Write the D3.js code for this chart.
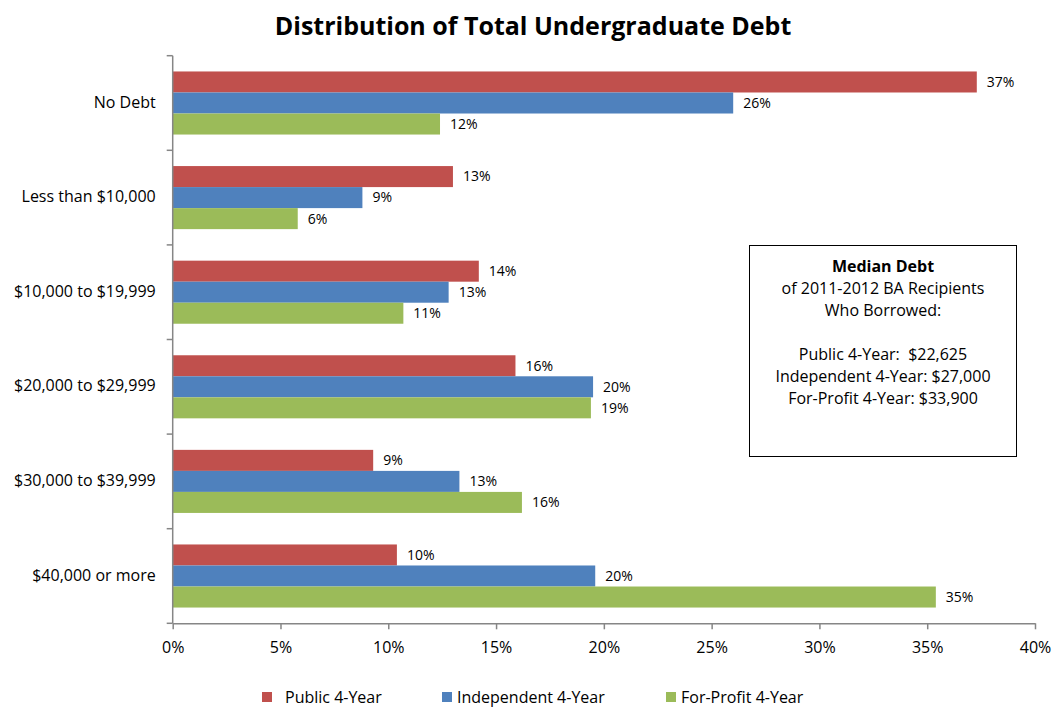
<!DOCTYPE html>
<html>
<head>
<meta charset="utf-8">
<script src="https://cdn.jsdelivr.net/npm/d3@7"></script>
<style>
  html, body { margin: 0; padding: 0; background: #fff; }
  svg { display: block; font-family: "Open Sans", Lato, sans-serif; }
  svg text { white-space: pre; }
</style>
</head>
<body>
<svg id="chart" width="1053" height="708"></svg>
<script>
// Debt ranges (rows, top to bottom)
const categories = ["No Debt", "Less than $10,000", "$10,000 to $19,999",
                    "$20,000 to $29,999", "$30,000 to $39,999", "$40,000 or more"];
// Institution types
const seriesNames = ["Public 4-Year", "Independent 4-Year", "For-Profit 4-Year"];
// Share of BA recipients in each debt range (percent)
const publicVals      = [37.3, 13.0, 14.2, 15.9,  9.3, 10.4];
const independentVals = [26.0,  8.8, 12.8, 19.5, 13.3, 19.6];
const forProfitVals   = [12.4,  5.8, 10.7, 19.4, 16.2, 35.4];
const xTicks = [0, 5, 10, 15, 20, 25, 30, 35, 40];
const colors = ["#C0504D", "#4F81BD", "#9BBB59"];
// Text of the median debt box
const noteTitle = "Median Debt";
const noteLines = ["of 2011-2012 BA Recipients", "Who Borrowed:", "",
                   "Public 4-Year:  $22,625", "Independent 4-Year: $27,000",
                   "For-Profit 4-Year: $33,900"];

const seriesVals = [publicVals, independentVals, forProfitVals];
const rows = categories.map((c, i) => ({
  category: c,
  values: seriesNames.map((s, j) => ({ series: s, idx: j, value: seriesVals[j][i] }))
}));

const svg = d3.select("#chart");
const plot = { left: 172.7, right: 1035, top: 55.7, bottom: 623.3 };
const axisColor = "#868686";
const font = "'Open Sans', Lato, sans-serif";

const x = d3.scaleLinear().domain([0, 40]).range([plot.left, plot.right]);
const y0 = d3.scaleBand().domain(categories).range([plot.top, plot.bottom]).padding(0);
const y1 = d3.scaleBand().domain(seriesNames).range([0, y0.bandwidth()])
  .paddingInner(0).paddingOuter(0.75);

// Title
svg.append("text")
  .attr("x", 533).attr("y", 35)
  .attr("text-anchor", "middle")
  .attr("font-size", 25).attr("font-weight", "bold")
  .attr("fill", "#000")
  .text("Distribution of Total Undergraduate Debt");

// Bars
const groups = svg.append("g").selectAll("g").data(rows).join("g")
  .attr("transform", d => `translate(0,${y0(d.category)})`);

groups.selectAll("rect").data(d => d.values).join("rect")
  .attr("x", x(0))
  .attr("y", d => y1(d.series))
  .attr("width", d => x(d.value) - x(0))
  .attr("height", y1.bandwidth())
  .attr("fill", d => colors[d.idx]);

// Value labels
const fmt = d => d3.format(".0f")(d) + "%";
groups.selectAll("text").data(d => d.values).join("text")
  .attr("x", d => x(d.value) + 10)
  .attr("y", d => y1(d.series) + y1.bandwidth() / 2)
  .attr("dy", "0.35em")
  .attr("font-size", 14)
  .attr("fill", "#000")
  .text(d => fmt(d.value));

// Y axis
const yAxis = svg.append("g");
yAxis.append("line")
  .attr("x1", plot.left).attr("x2", plot.left)
  .attr("y1", plot.top).attr("y2", plot.bottom)
  .attr("stroke", axisColor).attr("stroke-width", 1.5);
const yTickPos = categories.map(c => y0(c)).concat([plot.bottom]);
yAxis.selectAll("line.tick").data(yTickPos).join("line")
  .attr("class", "tick")
  .attr("x1", plot.left - 6).attr("x2", plot.left)
  .attr("y1", d => d).attr("y2", d => d)
  .attr("stroke", axisColor).attr("stroke-width", 1.5);
yAxis.selectAll("text").data(categories).join("text")
  .attr("x", plot.left - 17)
  .attr("y", d => y0(d) + y0.bandwidth() / 2 - 1)
  .attr("dy", "0.35em")
  .attr("text-anchor", "end")
  .attr("font-size", 16)
  .attr("fill", "#000")
  .text(d => d);

// X axis
const xAxis = d3.axisBottom(x).tickValues(xTicks).tickSize(6).tickSizeOuter(0)
  .tickFormat(d => d + "%");
const gx = svg.append("g")
  .attr("transform", `translate(0,${plot.bottom})`)
  .call(xAxis);
gx.select(".domain").attr("stroke", axisColor).attr("stroke-width", 1.5);
gx.selectAll(".tick line").attr("stroke", axisColor).attr("stroke-width", 1.5);
gx.selectAll(".tick text")
  .attr("font-family", font)
  .attr("font-size", 16).attr("fill", "#000").attr("dy", "1.3em");

// Median debt note box
const box = { x: 749.5, y: 245.5, w: 267, h: 211 };
const note = svg.append("g");
note.append("rect")
  .attr("x", box.x).attr("y", box.y).attr("width", box.w).attr("height", box.h)
  .attr("fill", "#fff").attr("stroke", "#000").attr("stroke-width", 1);
const cx = box.x + box.w / 2;
note.append("text")
  .attr("x", cx).attr("y", box.y + 26)
  .attr("text-anchor", "middle").attr("font-size", 16).attr("font-weight", "bold")
  .text(noteTitle);
note.selectAll("text.line").data(noteLines).join("text")
  .attr("class", "line")
  .attr("x", cx)
  .attr("y", (d, i) => box.y + 26 + 22 * (i + 1))
  .attr("text-anchor", "middle").attr("font-size", 16)
  .text(d => d);

// Legend along the bottom edge
const legendX = [262, 442, 666];
const legend = svg.append("g").selectAll("g").data(seriesNames).join("g")
  .attr("transform", (d, i) => `translate(${legendX[i]},697)`);
legend.append("rect")
  .attr("x", 0).attr("y", -5).attr("width", 10).attr("height", 10)
  .attr("fill", (d, i) => colors[i]);
legend.append("text")
  .attr("x", (d, i) => i === 0 ? 23 : 15)
  .attr("y", 0).attr("dy", "0.35em")
  .attr("font-size", 16)
  .text(d => d);
</script>
</body>
</html>
